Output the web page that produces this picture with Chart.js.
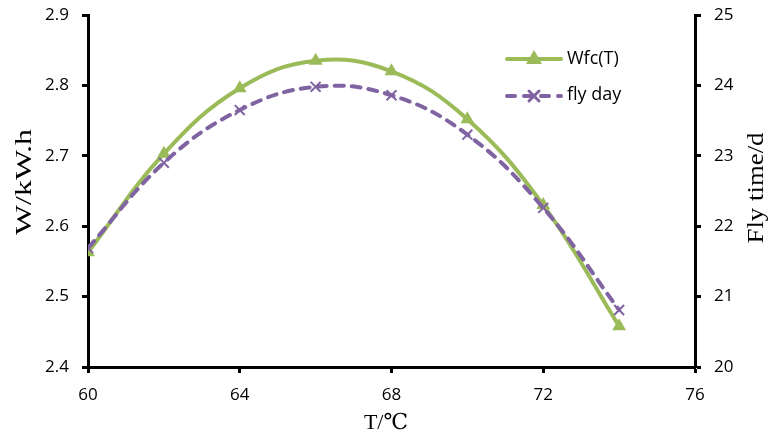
<!DOCTYPE html>
<html>
<head>
<meta charset="utf-8">
<script src="https://cdn.jsdelivr.net/npm/chart.js@4.4.0/dist/chart.umd.min.js"></script>
<style>
  html, body { margin: 0; padding: 0; background: #fff; }
  #wrap { width: 768px; height: 434px; }
</style>
</head>
<body>
<div id="wrap"><canvas id="chart" width="768" height="434"></canvas></div>
<script>
// ---------- DATA ----------
const temps = [60, 62, 64, 66, 68, 70, 72, 74];
const wfcValues = [2.563, 2.703, 2.796, 2.835, 2.820, 2.752, 2.630, 2.458];
const flyDays = [21.69, 22.90, 23.65, 23.98, 23.86, 23.30, 22.26, 20.81];
const xTicks = [60, 64, 68, 72, 76];

const GREEN = "#9BBB59";
const PURPLE = "#8064A2";
const SANS = "'Open Sans', 'Noto Sans', sans-serif";
const SERIF = "'Liberation Serif', 'DejaVu Serif', serif";
const tickFont = { family: SANS, size: 17 };

// draw a rotated, slightly stretched axis title (reading bottom to top)
function sideTitle(ctx, text, x, y, len) {
  ctx.save();
  ctx.translate(x, y);
  ctx.rotate(-Math.PI / 2);
  const w = ctx.measureText(text).width;
  ctx.scale(len / w, 1);
  ctx.fillText(text, 0, 0);
  ctx.restore();
}

// fixed axis box sizes so the plot area lands where the original one is
function fixY(width) {
  return s => { s.width = width; s.paddingTop = 0; s.paddingBottom = 0; };
}

// ---------- LEGEND + AXIS TITLES ----------
const extras = {
  id: "extras",
  afterDraw(chart) {
    const ctx = chart.ctx;
    ctx.save();
    ctx.lineCap = "round";
    // Wfc(T)
    ctx.strokeStyle = GREEN;
    ctx.lineWidth = 4;
    ctx.beginPath(); ctx.moveTo(507, 59); ctx.lineTo(561, 59); ctx.stroke();
    ctx.fillStyle = GREEN;
    ctx.beginPath(); ctx.moveTo(534, 50); ctx.lineTo(542, 64); ctx.lineTo(526, 64); ctx.closePath(); ctx.fill();
    // fly day
    ctx.strokeStyle = PURPLE;
    ctx.setLineDash([8, 9]);
    ctx.beginPath(); ctx.moveTo(507, 96); ctx.lineTo(561, 96); ctx.stroke();
    ctx.setLineDash([]);
    ctx.lineWidth = 3;
    ctx.beginPath();
    ctx.moveTo(529, 91); ctx.lineTo(539, 101);
    ctx.moveTo(539, 91); ctx.lineTo(529, 101);
    ctx.stroke();

    ctx.fillStyle = "#000";
    ctx.font = "18px " + SANS;
    ctx.textBaseline = "middle";
    ctx.textAlign = "left";
    ctx.fillText("Wfc(T)", 567, 59);
    ctx.fillText("fly day", 567, 95);

    // axis titles
    ctx.font = "22px " + SERIF;
    ctx.textAlign = "center";
    ctx.fillText("T/℃", 386, 423);
    ctx.font = "24px " + SERIF;
    sideTitle(ctx, "W/kW.h", 25, 182, 106);
    sideTitle(ctx, "Fly time/d", 757, 188, 111);
    ctx.restore();
  }
};

// ---------- CHART ----------
new Chart(document.getElementById("chart"), {
  type: "line",
  data: {
    datasets: [
      {
        label: "Wfc(T)",
        data: temps.map((t, i) => ({ x: t, y: wfcValues[i] })),
        yAxisID: "y",
        borderColor: GREEN,
        backgroundColor: GREEN,
        borderWidth: 4,
        tension: 0.4,
        pointStyle: "triangle",
        pointRadius: 8,
        pointBorderWidth: 0,
        order: 2
      },
      {
        label: "fly day",
        data: temps.map((t, i) => ({ x: t, y: flyDays[i] })),
        yAxisID: "y1",
        borderColor: PURPLE,
        backgroundColor: PURPLE,
        borderWidth: 4,
        borderDash: [9, 8],
        borderCapStyle: "round",
        tension: 0.4,
        pointStyle: "crossRot",
        pointRadius: 7,
        pointBorderWidth: 2,
        order: 1
      }
    ]
  },
  options: {
    responsive: false,
    animation: false,
    layout: { padding: { top: 15, left: 0, right: 0, bottom: 0 } },
    plugins: { legend: { display: false }, tooltip: { enabled: false } },
    scales: {
      x: {
        type: "linear",
        min: 60, max: 76,
        afterBuildTicks: s => { s.ticks = xTicks.map(v => ({ value: v })); },
        afterFit: s => { s.height = 67; s.paddingLeft = 0; s.paddingRight = 0; },
        border: { color: "#000", width: 3 },
        grid: { drawOnChartArea: false, drawTicks: true, tickLength: 6, tickColor: "#000", tickWidth: 3 },
        ticks: { color: "#000", font: tickFont, padding: 12, maxRotation: 0 }
      },
      y: {
        position: "left",
        min: 2.4, max: 2.9,
        afterFit: fixY(88),
        border: { color: "#000", width: 3 },
        grid: { drawOnChartArea: false, drawTicks: true, tickLength: 6, tickColor: "#000", tickWidth: 3 },
        ticks: { stepSize: 0.1, color: "#000", font: tickFont, padding: 13, callback: v => v.toFixed(1) }
      },
      y1: {
        position: "right",
        min: 20, max: 25,
        afterFit: fixY(73),
        border: { color: "#000", width: 3 },
        grid: { drawOnChartArea: false, drawTicks: true, tickLength: 6, tickColor: "#000", tickWidth: 3 },
        ticks: { stepSize: 1, color: "#000", font: tickFont, padding: 13 }
      }
    }
  },
  plugins: [extras]
});
</script>
</body>
</html>
